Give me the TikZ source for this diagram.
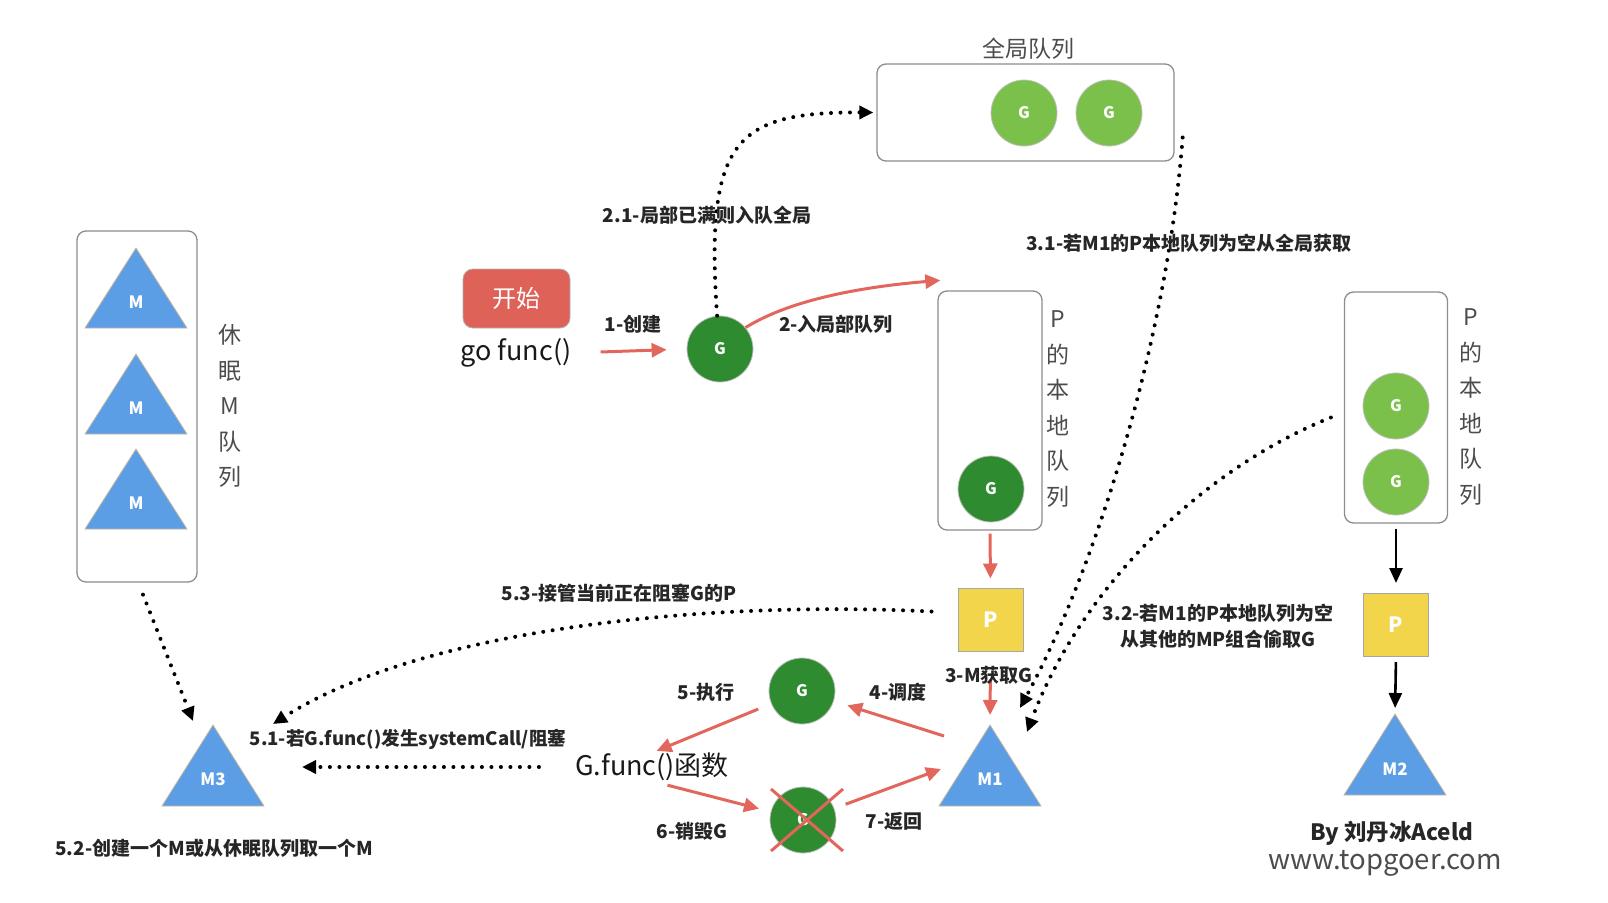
\documentclass[tikz,border=0pt]{standalone}
\usepackage{fontspec}
\setmainfont{Noto Sans CJK SC}
\usepackage{xcolor}
\usetikzlibrary{arrows.meta,calc}

\definecolor{redarr}{HTML}{E2665C}
\definecolor{startred}{HTML}{DE6258}
\definecolor{darkg}{HTML}{2E8B2F}
\definecolor{lightg}{HTML}{7CC04C}
\definecolor{tblue}{HTML}{5C9EE6}
\definecolor{tborder}{HTML}{C9B79C}
\definecolor{pyellow}{HTML}{F2D54A}
\definecolor{boxgray}{HTML}{8C8C8C}

\begin{document}
\begin{tikzpicture}[x=1pt,y=-1pt,
  lbl/.style={font=\bfseries\fontsize{19}{26}\selectfont, text=black!85, inner sep=0pt},
  vlbl/.style={font=\fontsize{23}{35.5}\selectfont, text=black!70, align=center, inner sep=0pt},
  handw/.style={font=\fontsize{27}{30}\selectfont, text=black!90, inner sep=0pt},
  queue/.style={draw=boxgray, line width=1.3pt, rounded corners=9pt},
  gdark/.style={circle, fill=darkg, draw=gray!50, line width=0.8pt, minimum size=66pt, inner sep=0pt, text=white, font=\bfseries\fontsize{16}{16}\selectfont},
  glight/.style={gdark, fill=lightg},
  pbox/.style={rectangle, fill=pyellow, draw=gray!70, line width=1pt, minimum width=65pt, minimum height=63pt, text=white, font=\bfseries\fontsize{21}{21}\selectfont},
  startbox/.style={rectangle, rounded corners=10pt, fill=startred, draw=gray!60, line width=0.8pt, minimum width=107pt, minimum height=59pt, text=white, font=\fontsize{24}{24}\selectfont},
  tri/.style={fill=tblue, draw=tborder, line width=0.8pt},
  mlbl/.style={text=white, font=\bfseries\fontsize{17}{17}\selectfont, inner sep=0pt},
  redline/.style={draw=redarr, line width=3pt, -{Triangle[length=15pt,width=14pt]}},
  blackline/.style={draw=black, line width=2.6pt, -{Triangle[length=15pt,width=13pt]}},
  dotline/.style={line width=4pt, line cap=round, dash pattern=on 0pt off 9.5pt, -{Triangle[length=14pt,width=13pt]}}]
\useasboundingbox (0,0) rectangle (1608,902);

% Global queue
\node[queue, minimum width=297pt, minimum height=97pt] (gq) at (1025.5,112.5) {};
\node[vlbl] (gqtitle) at (1028,49) {全局队列};
\node[glight] (gq1) at (1024,113) {G};
\node[glight] (gq2) at (1109,113) {G};

% Start: go func()
\node[startbox] (start) at (516.5,298.5) {开始};
\node[handw] (gofunc) at (516,353) {go func()};
\node[gdark] (gnew) at (720,349) {G};
\draw[redline, shorten <=29pt, shorten >=20pt] (gofunc.east) -- (gnew.west);
\node[lbl] (l1) at (633,324) {1-创建};

% Sleeping M queue
\node[queue, minimum width=120pt, minimum height=351pt] (sleepq) at (137,406.5) {};
\foreach \y/\n in {248/ma,354/mb,449/mc}{
  \filldraw[tri] (136,\y) -- ++(51,80) -- ++(-102,0) -- cycle;
  \node[mlbl] (\n) at (136,\y+54) {M};
}
\node[vlbl] (sleeptxt) at (230,406) {休\\眠\\M\\队\\列};

% Local queue of P (M1)
\node[queue, minimum width=104pt, minimum height=239pt] (lq) at (990,410.5) {};
\node[gdark] (lqg) at (991,489) {G};
\node[vlbl] (lqtxt) at (1058,409) {P\\的\\本\\地\\队\\列};
\node[pbox] (p1) at (990.5,619.5) {P};
\filldraw[tri] (990,725) -- (1041,806) -- (939,806) -- cycle;
\node[mlbl] (m1) at (990,779) {M1};
\coordinate (m1top) at (990,725);
\coordinate (m1w) at (944,736);
\coordinate (m1sw) at (941,769);
\coordinate (m1a) at (1020,708);
\coordinate (m1b) at (1027,732);

% Local queue of P (M2)
\node[queue, minimum width=103pt, minimum height=231pt] (rq) at (1396,407.5) {};
\node[glight] (rqg1) at (1396,406) {G};
\node[glight] (rqg2) at (1396,482) {G};
\node[vlbl] (rqtxt) at (1471,407) {P\\的\\本\\地\\队\\列};
\node[pbox] (p2) at (1396,625) {P};
\filldraw[tri] (1395,714) -- (1446,795) -- (1344,795) -- cycle;
\node[mlbl] (m2) at (1395,769) {M2};
\coordinate (m2top) at (1395,714);
\draw[blackline, shorten <=5pt, shorten >=10pt] (rq.south) -- (p2.north);
\draw[blackline, shorten <=5pt, shorten >=6pt] (p2.south) -- (m2top);

% M3
\filldraw[tri] (213,725) -- (264,806) -- (162,806) -- cycle;
\node[mlbl] (m3) at (213,779) {M3};
\coordinate (m3nw) at (193,721);
\coordinate (m3ne) at (273,724);
\coordinate (m3e) at (302,767);

% Enqueue
\draw[redline] (gnew.40) .. controls (790,300) and (860,287) .. ($(lq.north west)+(3,-10)$);
\node[lbl] (l2) at (836,324) {2-入局部队列};
\draw[dotline, shorten >=3pt] (gnew.95) .. controls (705,140) and (735,112) .. (gq.west);
\node[lbl] (l21) at (707,215) {2.1-局部已满则入队全局};

% M1 takes G
\draw[redline, shorten <=3pt, shorten >=9pt] (lq.south) -- (p1.north);
\draw[redline, shorten <=28pt, shorten >=10pt] (p1.south) -- (m1top);
\node[lbl] (l3) at (989,675) {3-M获取G};
\draw[dotline] ($(gq.east)+(8,25)$) .. controls (1168,330) and (1100,560) .. (m1a);
\node[lbl] (l31) at (1189,243) {3.1-若M1的P本地队列为空从全局获取};
\draw[dotline] ($(rq.west)+(-13,10)$) .. controls (1200,470) and (1080,590) .. (m1b);
\node[lbl, align=center] (l32) at (1218,626) {3.2-若M1的P本地队列为空\\从其他的MP组合偷取G};

% Schedule and run
\node[gdark] (gmid) at (802,691) {G};
\node[handw] (gfunc) at (652,767) {G.func()函数};
\node[gdark] (gdead) at (803,820) {G};
\draw[redarr, line width=3pt] ($(gdead)+(-32,-31)$) -- ($(gdead)+(40,31)$);
\draw[redarr, line width=3pt] ($(gdead)+(40,-31)$) -- ($(gdead)+(-32,31)$);
\draw[redline, shorten >=14pt] (m1w) -- (gmid);
\node[lbl] (l4) at (898,692) {4-调度};
\draw[redline, shorten <=14pt, shorten >=5pt] (gmid) -- (gfunc.north);
\node[lbl] (l5) at (706,692) {5-执行};
\draw[redline, shorten <=16pt, shorten >=12pt] (gfunc.south) -- (gdead);
\node[lbl] (l6) at (692,831) {6-销毁G};
\draw[redline, shorten <=12pt] (gdead) -- (m1sw);
\node[lbl] (l7) at (894,821) {7-返回};

% Blocking: hand P to M3
\draw[dotline, shorten <=36pt] (gfunc.west) -- (m3e);
\node[lbl, font=\bfseries\fontsize{18.6}{26}\selectfont] (l51) at (408,739) {5.1-若G.func()发生systemCall/阻塞};
\draw[dotline] ($(sleepq.south)+(6,12)$) -- (m3nw);
\node[lbl] (l52) at (214,848) {5.2-创建一个M或从休眠队列取一个M};
\draw[dotline] ($(p1.west)+(-26,-8)$) .. controls (700,600) and (420,630) .. (m3ne);
\node[lbl] (l53) at (619,593) {5.3-接管当前正在阻塞G的P};

% Signature
\node[lbl, font=\bfseries\fontsize{22.5}{24}\selectfont] (by) at (1392,833) {By 刘丹冰Aceld};
\node[handw, text=black!70, font=\fontsize{27.5}{30}\selectfont] (web) at (1385,863) {www.topgoer.com};
\end{tikzpicture}
\end{document}
